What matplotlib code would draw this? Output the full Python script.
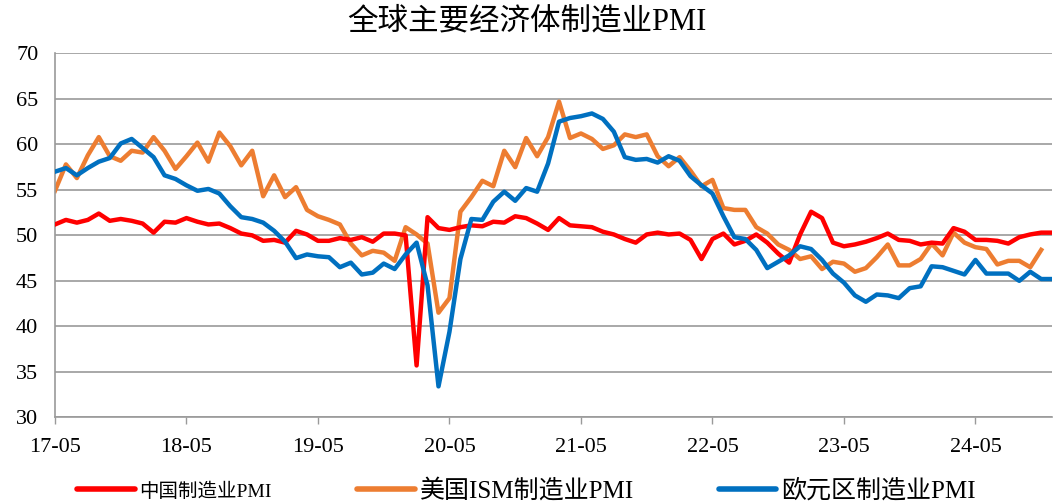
import matplotlib
matplotlib.use("Agg")
import matplotlib.pyplot as plt
import numpy as np

plt.rcParams['font.family'] = ['Liberation Serif', 'Noto Sans CJK SC']

# monthly readings from 2017-05
china_pmi = [51.2, 51.7, 51.4, 51.7, 52.4, 51.6, 51.8, 51.6,
             51.3, 50.3, 51.5, 51.4, 51.9, 51.5, 51.2, 51.3, 50.8, 50.2, 50.0, 49.4,
             49.5, 49.2, 50.5, 50.1, 49.4, 49.4, 49.7, 49.5, 49.8, 49.3, 50.2, 50.2,
             50.0, 35.7, 52.0, 50.8, 50.6, 50.9, 51.1, 51.0, 51.5, 51.4, 52.1, 51.9,
             51.3, 50.6, 51.9, 51.1, 51.0, 50.9, 50.4, 50.1, 49.6, 49.2, 50.1, 50.3,
             50.1, 50.2, 49.5, 47.4, 49.6, 50.2, 49.0, 49.4, 50.1, 49.2, 48.0, 47.0,
             50.1, 52.6, 51.9, 49.2, 48.8, 49.0, 49.3, 49.7, 50.2, 49.5, 49.4, 49.0,
             49.2, 49.1, 50.8, 50.4, 49.5, 49.5, 49.4, 49.1, 49.8, 50.1, 50.3, 50.3]

us_ism_pmi = [54.9, 57.8, 56.3, 58.8, 60.8, 58.7, 58.2, 59.3,
              59.1, 60.8, 59.3, 57.3, 58.7, 60.2, 58.1, 61.3, 59.8, 57.7, 59.3, 54.3,
              56.6, 54.2, 55.3, 52.8, 52.1, 51.7, 51.2, 49.1, 47.8, 48.3, 48.1, 47.2,
              50.9, 50.1, 49.1, 41.5, 43.1, 52.6, 54.2, 56.0, 55.4, 59.3, 57.5, 60.7,
              58.7, 60.8, 64.7, 60.7, 61.2, 60.6, 59.5, 59.9, 61.1, 60.8, 61.1, 58.7,
              57.6, 58.6, 57.1, 55.4, 56.1, 53.0, 52.8, 52.8, 50.9, 50.2, 49.0, 48.4,
              47.4, 47.7, 46.3, 47.1, 46.9, 46.0, 46.4, 47.6, 49.0, 46.7, 46.7, 47.4,
              49.1, 47.8, 50.3, 49.2, 48.7, 48.5, 46.8, 47.2, 47.2, 46.5, 48.4]

euro_pmi = [57.0, 57.4, 56.6, 57.4, 58.1, 58.5, 60.1, 60.6,
            59.6, 58.6, 56.6, 56.2, 55.5, 54.9, 55.1, 54.6, 53.2, 52.0, 51.8, 51.4,
            50.5, 49.3, 47.5, 47.9, 47.7, 47.6, 46.5, 47.0, 45.7, 45.9, 46.9, 46.3,
            47.9, 49.2, 44.5, 33.4, 39.4, 47.4, 51.8, 51.7, 53.7, 54.8, 53.8, 55.2,
            54.8, 57.9, 62.5, 62.9, 63.1, 63.4, 62.8, 61.4, 58.6, 58.3, 58.4, 58.0,
            58.7, 58.2, 56.5, 55.5, 54.6, 52.1, 49.8, 49.6, 48.4, 46.4, 47.1, 47.8,
            48.8, 48.5, 47.3, 45.8, 44.8, 43.4, 42.7, 43.5, 43.4, 43.1, 44.2, 44.4,
            46.6, 46.5, 46.1, 45.7, 47.3, 45.8, 45.8, 45.8, 45.0, 46.0, 45.2, 45.2]

tick_labels = ['17-05', '18-05', '19-05', '20-05', '21-05', '22-05', '23-05', '24-05']
y_ticks = [30, 35, 40, 45, 50, 55, 60, 65, 70]

fig = plt.figure(figsize=(10.53, 5.04), dpi=100)
ax = fig.add_axes([0.0522, 0.172, 0.947, 0.722])

lw = 3.2
ax.plot(np.arange(len(china_pmi)), china_pmi, color='#FF0000', lw=lw,
        label='中国制造业PMI', zorder=3)
ax.plot(np.arange(len(us_ism_pmi)), us_ism_pmi, color='#ED7D31', lw=lw,
        label='美国ISM制造业PMI', zorder=2)
ax.plot(np.arange(len(euro_pmi)), euro_pmi, color='#0070C0', lw=lw,
        label='欧元区制造业PMI', zorder=4)

ax.set_xlim(0, 91)
ax.set_ylim(30, 70)
ax.set_yticks(y_ticks)
ax.set_xticks(np.arange(0, 12 * len(tick_labels), 12))
ax.set_xticklabels(tick_labels)

grid_c = '#9A9A9A'
ax.yaxis.grid(True, color=grid_c, lw=1.2)
ax.set_axisbelow(True)
for s in ['top', 'right']:
    ax.spines[s].set_visible(False)
for s in ['left', 'bottom']:
    ax.spines[s].set_color(grid_c)
    ax.spines[s].set_linewidth(1.2)

ax.tick_params(axis='y', length=0, pad=12, labelsize=16)
ax.tick_params(axis='x', length=5, width=1.0, color=grid_c, pad=10, labelsize=16)

fig.text(0.5, 0.956, '全球主要经济体制造业PMI', ha='center', va='center', fontsize=22)

leg = fig.legend(loc='center', bbox_to_anchor=(0.5, 0.027), ncol=3, frameon=False,
                 fontsize=18, handlelength=2.3, handletextpad=0.2,
                 columnspacing=3.4)
for line in leg.get_lines():
    line.set_linewidth(4)
    line.set_solid_capstyle('round')
leg.get_texts()[0].set_fontsize(14)

fig.savefig('out.png', dpi=100)
